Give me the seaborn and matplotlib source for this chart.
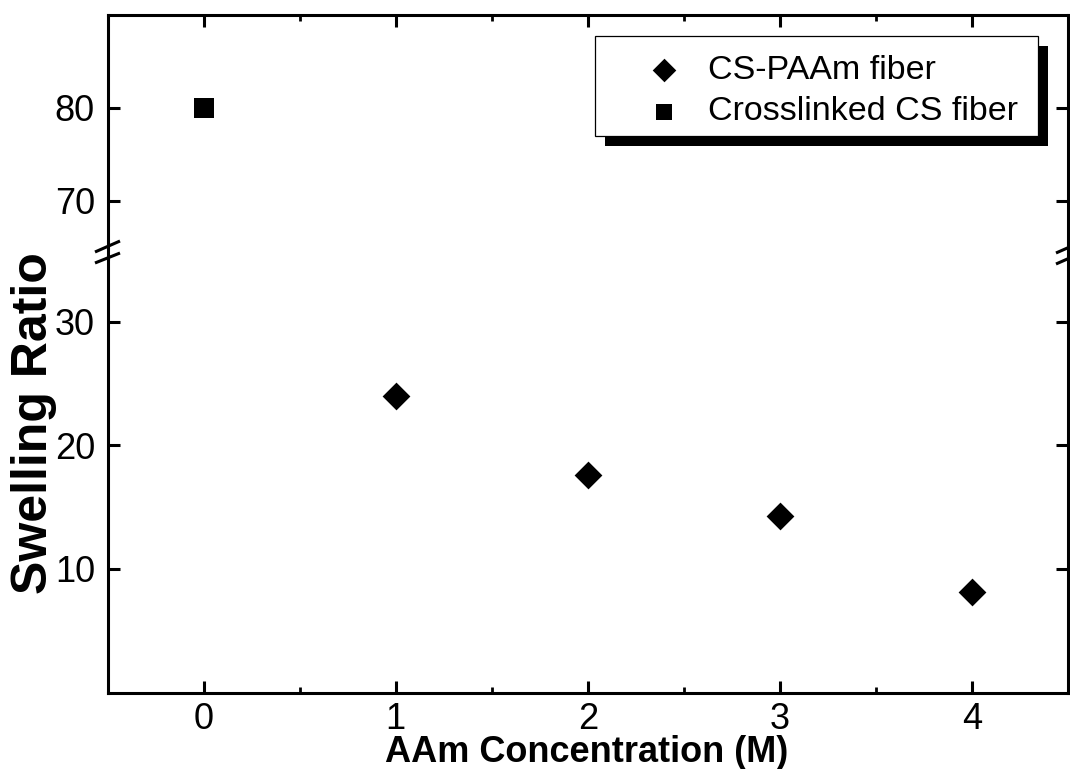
import matplotlib
matplotlib.use('Agg')
import matplotlib.pyplot as plt
import pandas as pd
import seaborn as sns
from matplotlib.lines import Line2D
from matplotlib.patches import Rectangle
from matplotlib.ticker import MultipleLocator

# ---- data ----
aam_conc = [1, 2, 3, 4]
cs_paam_swelling = [24.0, 17.6, 14.3, 8.1]
crosslinked_conc = [0]
crosslinked_swelling = [80.0]
series_labels = ['CS-PAAm fiber', 'Crosslinked CS fiber']
x_ticks = [0, 1, 2, 3, 4]
y_ticks_low = [10, 20, 30]
y_ticks_high = [70, 80]
x_label = 'AAm Concentration (M)'
y_label = 'Swelling Ratio'

sns.set_style('white')
plt.rcParams['font.family'] = ['Liberation Sans', 'DejaVu Sans']
plt.rcParams['text.color'] = 'black'
plt.rcParams['axes.labelcolor'] = 'black'
plt.rcParams['xtick.color'] = 'black'
plt.rcParams['ytick.color'] = 'black'

W, H = 1070, 769
fig = plt.figure(figsize=(W / 100, H / 100), dpi=100)


def fx(px):
    return px / W


def fy(py):
    return 1 - py / H


L, R = 107.5, 1068
ax_hi = fig.add_axes([fx(L), fy(247), (R - L) / W, (247 - 15) / H])
ax_lo = fig.add_axes([fx(L), fy(692.5), (R - L) / W, (692.5 - 260) / H])

low_df = pd.DataFrame({'x': aam_conc, 'y': cs_paam_swelling})
high_df = pd.DataFrame({'x': crosslinked_conc, 'y': crosslinked_swelling})

for ax in (ax_hi, ax_lo):
    sns.scatterplot(data=low_df, x='x', y='y', marker='D', color='black', s=200,
                    linewidth=0, ax=ax, label=series_labels[0], legend=False)
    sns.scatterplot(data=high_df, x='x', y='y', marker='s', color='black', s=196,
                    linewidth=0, ax=ax, label=series_labels[1], legend=False)
    ax.set_xlim(-0.5, 4.5)
    ax.set_xlabel('')
    ax.set_ylabel('')
    ax.set_facecolor('white')
    for s in ax.spines.values():
        s.set_linewidth(2.2)
        s.set_color('black')
        s.set_visible(True)
    ax.set_xticks(x_ticks)
    ax.xaxis.set_minor_locator(MultipleLocator(0.5))
    ax.tick_params(axis='both', which='major', direction='in', length=8.5, width=2.2,
                   labelsize=26, colors='black', labelcolor='black')
    ax.tick_params(axis='x', which='minor', direction='in', length=4, width=2, colors='black')
    ax.tick_params(axis='y', which='both', left=True, right=True, pad=9)
    ax.yaxis.set_minor_locator(plt.NullLocator())

ax_hi.set_ylim(65, 90)
ax_lo.set_ylim(0, 35)
ax_hi.set_yticks(y_ticks_high)
ax_lo.set_yticks(y_ticks_low)
ax_hi.spines['bottom'].set_visible(False)
ax_lo.spines['top'].set_visible(False)
ax_hi.tick_params(axis='x', which='both', bottom=False, top=True, labelbottom=False, labeltop=False)
ax_lo.tick_params(axis='x', which='both', bottom=True, top=False, labelbottom=True, pad=7)

# legend frame with solid shadow
ax_hi.add_patch(Rectangle((fx(605), fy(146)), (1048 - 605) / W, (146 - 46) / H,
                          transform=fig.transFigure, facecolor='black', edgecolor='none',
                          zorder=4.6, clip_on=False))
ax_hi.add_patch(Rectangle((fx(595), fy(136)), (1038 - 595) / W, (136 - 36) / H,
                          transform=fig.transFigure, facecolor='white', edgecolor='black',
                          linewidth=0.9, zorder=4.7, clip_on=False))
handles, labels = ax_hi.get_legend_handles_labels()
leg = ax_hi.legend(handles, labels, loc='center left', bbox_to_anchor=(fx(650), fy(91)),
                   bbox_transform=fig.transFigure, frameon=False, borderpad=0,
                   borderaxespad=0, handlelength=0.8, handletextpad=0.9,
                   labelspacing=0.32, fontsize=24.5, markerscale=0.85)
leg.set_zorder(5)

# axis break marks and connecting spine pieces
for (x0, y0, x1, y1) in [(95, 252, 120, 241), (95, 263, 120, 253),
                         (1056, 253, 1081, 242), (1056, 264, 1081, 253),
                         (L, 247, L, 260), (R, 247, R, 260)]:
    fig.add_artist(Line2D([fx(x0), fx(x1)], [fy(y0), fy(y1)], transform=fig.transFigure,
                          color='black', linewidth=2.2, solid_capstyle='butt'))

fig.text(fx(587), fy(752), x_label, ha='center', va='center', fontsize=26, fontweight='bold')
fig.text(fx(34), fy(423), y_label, ha='center', va='center', rotation=90, fontsize=36,
         fontweight='bold')

fig.savefig('out.png', dpi=100, facecolor='white')
